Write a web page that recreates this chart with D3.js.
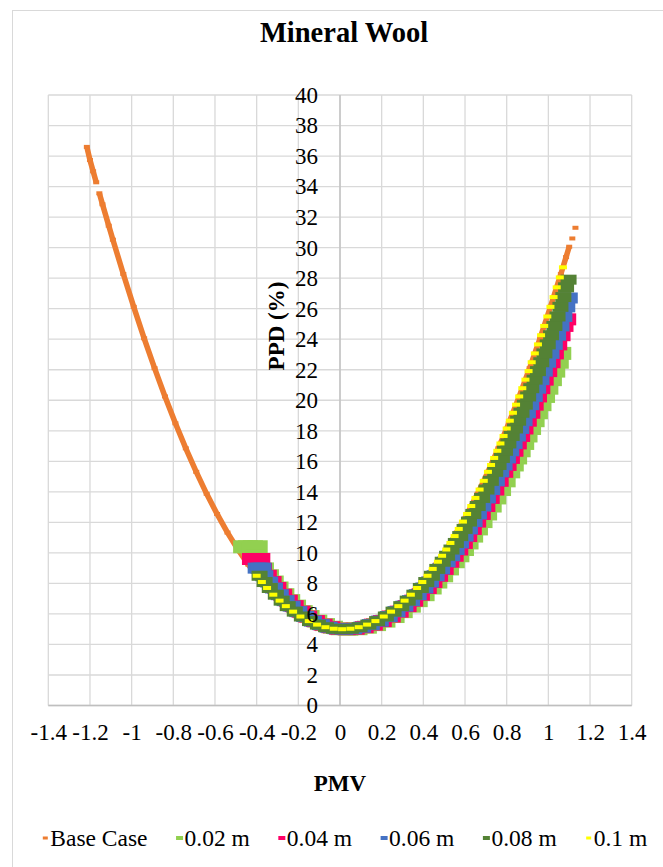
<!DOCTYPE html>
<html>
<head>
<meta charset="utf-8">
<script src="https://cdn.jsdelivr.net/npm/d3@7"></script>
<style>
  body { margin: 0; background: #fff; }
  svg { font-family: "Liberation Serif", "Times New Roman", serif; }
  text { font-family: "Liberation Serif", "Times New Roman", serif; fill: #000; }
</style>
</head>
<body>
<svg id="chart" width="663" height="867"></svg>
<script>
// ---- data: [PMV, PPD] pairs ----
const xTicks = [-1.4, -1.2, -1, -0.8, -0.6, -0.4, -0.2, 0, 0.2, 0.4, 0.6, 0.8, 1, 1.2, 1.4];
const yTicks = [0, 2, 4, 6, 8, 10, 12, 14, 16, 18, 20, 22, 24, 26, 28, 30, 32, 34, 36, 38, 40];

const seriesNames = ["Base Case", "0.02 m", "0.04 m", "0.06 m", "0.08 m", "0.1 m"];

// null = gap in the base case trace
const baseCase = [
  [-1.215, 36.6], [-1.2, 35.74], [-1.185, 35.0], [-1.17, 34.28], null,
  [-1.155, 33.56], [-1.14, 32.84], [-1.11, 31.44], [-1.09, 30.52], [-1.04, 28.27], [-0.99, 26.12],
  [-0.94, 24.06], [-0.89, 22.1], [-0.84, 20.25], [-0.79, 18.49], [-0.74, 16.85], [-0.69, 15.31],
  [-0.64, 13.87], [-0.59, 12.55], [-0.54, 11.33], [-0.49, 10.22], [-0.44, 9.23], [-0.39, 8.33],
  [-0.34, 7.55], [-0.29, 6.87], [-0.24, 6.3], [-0.19, 5.83], [-0.14, 5.47], [-0.09, 5.21],
  [-0.04, 5.05], [0.01, 5.0], [0.06, 5.05], [0.11, 5.21], [0.16, 5.47], [0.21, 5.83], [0.26, 6.3],
  [0.31, 6.87], [0.36, 7.55], [0.41, 8.33], [0.46, 9.23], [0.51, 10.22], [0.56, 11.33], [0.61, 12.55],
  [0.66, 13.87], [0.71, 15.31], [0.76, 16.85], [0.81, 18.49], [0.86, 20.25], [0.91, 22.1], [0.96, 24.06],
  [1.01, 26.12], [1.06, 28.27], [1.085, 29.38], [1.1, 30.06], null,
  [1.115, 30.6], null,
  [1.13, 31.3]
];

const ins002 = [
  [-0.465, 10.4], [-0.442, 10.4], [-0.418, 10.4], [-0.395, 10.4],
  [-0.425, 10.22], [-0.406, 9.81], [-0.388, 9.42], [-0.365, 8.95], [-0.341, 8.5], [-0.318, 8.09],
  [-0.295, 7.7], [-0.267, 7.26], [-0.239, 6.87], [-0.211, 6.51], [-0.179, 6.15], [-0.146, 5.83],
  [-0.109, 5.53], [-0.072, 5.3], [-0.034, 5.13], [0.003, 5.03],
  [0.04, 5.0], [0.084, 5.03], [0.129, 5.13], [0.173, 5.3], [0.218, 5.53], [0.262, 5.83], [0.301, 6.15],
  [0.34, 6.51], [0.373, 6.87], [0.406, 7.26], [0.44, 7.7], [0.467, 8.09], [0.495, 8.5], [0.523, 8.95],
  [0.551, 9.42], [0.573, 9.81], [0.595, 10.22], [0.617, 10.65], [0.639, 11.1], [0.662, 11.57],
  [0.684, 12.05], [0.706, 12.55], [0.728, 13.07], [0.75, 13.6], [0.773, 14.15], [0.795, 14.72],
  [0.817, 15.31], [0.834, 15.76], [0.85, 16.22], [0.867, 16.69], [0.884, 17.17], [0.9, 17.66],
  [0.917, 18.15], [0.934, 18.66], [0.95, 19.18], [0.967, 19.71], [0.984, 20.25], [1.0, 20.79],
  [1.017, 21.35], [1.033, 21.91], [1.05, 22.49], [1.062, 23.07]
];

const ins004 = [
  [-0.425, 9.6], [-0.403, 9.6], [-0.38, 9.6],
  [-0.396, 9.42], [-0.372, 8.95], [-0.349, 8.5], [-0.326, 8.09], [-0.303, 7.7], [-0.275, 7.26],
  [-0.248, 6.87], [-0.22, 6.51], [-0.187, 6.15], [-0.155, 5.83], [-0.118, 5.53], [-0.081, 5.3],
  [-0.044, 5.13], [-0.007, 5.03],
  [0.03, 5.0], [0.073, 5.03], [0.116, 5.13], [0.16, 5.3], [0.203, 5.53], [0.246, 5.83], [0.284, 6.15],
  [0.322, 6.51], [0.354, 6.87], [0.386, 7.26], [0.419, 7.7], [0.446, 8.09], [0.473, 8.5], [0.5, 8.95],
  [0.527, 9.42], [0.548, 9.81], [0.57, 10.22], [0.592, 10.65], [0.613, 11.1], [0.635, 11.57],
  [0.656, 12.05], [0.678, 12.55], [0.7, 13.07], [0.721, 13.6], [0.743, 14.15], [0.764, 14.72],
  [0.786, 15.31], [0.802, 15.76], [0.818, 16.22], [0.835, 16.69], [0.851, 17.17], [0.867, 17.66],
  [0.883, 18.15], [0.899, 18.66], [0.916, 19.18], [0.932, 19.71], [0.948, 20.25], [0.964, 20.79],
  [0.98, 21.35], [0.997, 21.91], [1.013, 22.49], [1.029, 23.07], [1.045, 23.66], [1.061, 24.26],
  [1.075, 24.87], [1.088, 25.3]
];

const ins006 = [
  [-0.4, 9.0], [-0.386, 9.0], [-0.372, 9.0],
  [-0.363, 8.5], [-0.34, 8.09], [-0.317, 7.7], [-0.289, 7.26], [-0.261, 6.87], [-0.232, 6.51],
  [-0.2, 6.15], [-0.167, 5.83], [-0.13, 5.53], [-0.092, 5.3], [-0.055, 5.13], [-0.017, 5.03],
  [0.02, 5.0], [0.063, 5.03], [0.106, 5.13], [0.148, 5.3], [0.191, 5.53], [0.234, 5.83], [0.271, 6.15],
  [0.309, 6.51], [0.341, 6.87], [0.373, 7.26], [0.405, 7.7], [0.432, 8.09], [0.459, 8.5], [0.485, 8.95],
  [0.512, 9.42], [0.534, 9.81], [0.555, 10.22], [0.576, 10.65], [0.598, 11.1], [0.619, 11.57],
  [0.641, 12.05], [0.662, 12.55], [0.683, 13.07], [0.705, 13.6], [0.726, 14.15], [0.748, 14.72],
  [0.769, 15.31], [0.785, 15.76], [0.801, 16.22], [0.817, 16.69], [0.833, 17.17], [0.849, 17.66],
  [0.865, 18.15], [0.881, 18.66], [0.897, 19.18], [0.913, 19.71], [0.93, 20.25], [0.946, 20.79],
  [0.962, 21.35], [0.978, 21.91], [0.994, 22.49], [1.01, 23.07], [1.026, 23.66], [1.042, 24.26],
  [1.058, 24.87], [1.072, 25.49], [1.086, 26.12], [1.098, 26.7]
];

const ins008 = [
  [-0.386, 8.5], [-0.362, 8.09], [-0.337, 7.7], [-0.308, 7.26], [-0.28, 6.87], [-0.251, 6.51],
  [-0.217, 6.15], [-0.183, 5.83], [-0.144, 5.53], [-0.106, 5.3], [-0.067, 5.13], [-0.029, 5.03],
  [0.01, 5.0], [0.052, 5.03], [0.094, 5.13], [0.136, 5.3], [0.178, 5.53], [0.22, 5.83], [0.257, 6.15],
  [0.294, 6.51], [0.325, 6.87], [0.357, 7.26], [0.388, 7.7], [0.414, 8.09], [0.441, 8.5], [0.467, 8.95],
  [0.493, 9.42], [0.514, 9.81], [0.535, 10.22], [0.556, 10.65], [0.577, 11.1], [0.598, 11.57],
  [0.619, 12.05], [0.64, 12.55], [0.661, 13.07], [0.682, 13.6], [0.703, 14.15], [0.724, 14.72],
  [0.745, 15.31], [0.761, 15.76], [0.777, 16.22], [0.792, 16.69], [0.808, 17.17], [0.824, 17.66],
  [0.84, 18.15], [0.855, 18.66], [0.871, 19.18], [0.887, 19.71], [0.903, 20.25], [0.918, 20.79],
  [0.934, 21.35], [0.95, 21.91], [0.966, 22.49], [0.981, 23.07], [0.997, 23.66], [1.013, 24.26],
  [1.029, 24.87], [1.044, 25.49], [1.058, 26.12], [1.072, 26.76], [1.085, 27.4], [1.097, 27.9]
];

const ins010 = [
  [-0.4, 8.5], [-0.375, 8.09], [-0.35, 7.7], [-0.32, 7.26], [-0.29, 6.87], [-0.26, 6.51],
  [-0.225, 6.15], [-0.19, 5.83], [-0.15, 5.53], [-0.11, 5.3], [-0.07, 5.13], [-0.03, 5.03],
  [0.01, 5.0], [0.05, 5.03], [0.09, 5.13], [0.13, 5.3], [0.17, 5.53], [0.21, 5.83], [0.245, 6.15],
  [0.28, 6.51], [0.31, 6.87], [0.34, 7.26], [0.37, 7.7], [0.395, 8.09], [0.42, 8.5], [0.445, 8.95],
  [0.47, 9.42], [0.49, 9.81], [0.51, 10.22], [0.53, 10.65], [0.55, 11.1], [0.57, 11.57], [0.59, 12.05],
  [0.61, 12.55], [0.63, 13.07], [0.65, 13.6], [0.67, 14.15], [0.69, 14.72], [0.71, 15.31], [0.725, 15.76],
  [0.74, 16.22], [0.755, 16.69], [0.77, 17.17], [0.785, 17.66], [0.8, 18.15], [0.815, 18.66],
  [0.83, 19.18], [0.845, 19.71], [0.86, 20.25], [0.875, 20.79], [0.89, 21.35], [0.905, 21.91],
  [0.92, 22.49], [0.935, 23.07], [0.95, 23.66], [0.965, 24.26], [0.98, 24.87], [0.995, 25.49],
  [1.01, 26.12], [1.025, 26.76], [1.04, 27.4], [1.055, 28.05], [1.07, 28.71]
];

// ---- styles ----
const colors = ["#ED7D31", "#92D050", "#FF0066", "#4472C4", "#548235", "#FFFF00"];
// dash marker size [w, h] on the plot and in the legend
const plotMarker = [[6, 4], [20, 13], [19, 12], [18, 11], [16, 10], [8, 4]];
const legendMarker = [[5, 3], [7, 4], [7, 4], [7, 4], [7, 4], [5, 3]];
const fontFamily = '"Liberation Serif", "Times New Roman", serif';

const svg = d3.select("#chart"),
      width = +svg.attr("width"),
      height = +svg.attr("height");

// chart area border
svg.append("rect")
  .attr("x", 12.5).attr("y", 10.5)
  .attr("width", width).attr("height", height)
  .attr("fill", "none").attr("stroke", "#d9d9d9");

const x = d3.scaleLinear().domain([-1.4, 1.4]).range([48.3, 631.7]);
const y = d3.scaleLinear().domain([0, 40]).range([705.5, 95]);

// gridlines
const grid = svg.append("g").attr("stroke", "#d9d9d9").attr("stroke-width", 1.3);
grid.selectAll(".vx").data(xTicks).join("line")
  .attr("x1", d => x(d)).attr("x2", d => x(d))
  .attr("y1", y(0)).attr("y2", y(40));
grid.selectAll(".hy").data(yTicks).join("line")
  .attr("x1", x(-1.4)).attr("x2", x(1.4))
  .attr("y1", d => y(d)).attr("y2", d => y(d));

// axis lines
svg.append("line").attr("x1", x(0)).attr("x2", x(0)).attr("y1", y(0)).attr("y2", y(40))
  .attr("stroke", "#bfbfbf").attr("stroke-width", 1.3);
svg.append("line").attr("x1", x(-1.4)).attr("x2", x(1.4)).attr("y1", y(0)).attr("y2", y(0))
  .attr("stroke", "#bfbfbf").attr("stroke-width", 1.3);

// series
const plot = svg.append("g");

plot.append("path")
  .datum(baseCase)
  .attr("fill", "none")
  .attr("stroke", colors[0])
  .attr("stroke-width", 5.5)
  .attr("d", d3.line().defined(d => d).x(d => x(d[0])).y(d => y(d[1])));

const allSeries = [baseCase.filter(d => d), ins002, ins004, ins006, ins008, ins010];

allSeries.forEach((pts, i) => {
  const [w, h] = plotMarker[i];
  plot.append("g")
    .selectAll("rect")
    .data(pts)
    .join("rect")
    .attr("x", d => x(d[0]) - w / 2)
    .attr("y", d => y(d[1]) - h / 2)
    .attr("width", w)
    .attr("height", h)
    .attr("fill", colors[i]);
});

// tick labels (drawn over the series, like the original)
svg.append("g")
  .attr("transform", `translate(0,${y(0)})`)
  .call(d3.axisBottom(x).tickValues(xTicks).tickSize(0).tickPadding(18.5).tickFormat(d => String(d)))
  .call(g => g.select(".domain").remove())
  .attr("font-family", fontFamily)
  .attr("font-size", "23px");

svg.append("g")
  .attr("transform", `translate(${x(0)},0)`)
  .call(d3.axisLeft(y).tickValues(yTicks).tickSize(0).tickPadding(22).tickFormat(d => String(d)))
  .call(g => g.select(".domain").remove())
  .attr("font-family", fontFamily)
  .attr("font-size", "23px");

// titles
svg.append("text")
  .attr("x", 344).attr("y", 41.5)
  .attr("text-anchor", "middle")
  .attr("font-family", fontFamily)
  .attr("font-size", "28.5px").attr("font-weight", "bold")
  .text("Mineral Wool");

svg.append("text")
  .attr("x", 340).attr("y", 791)
  .attr("text-anchor", "middle")
  .attr("font-family", fontFamily)
  .attr("font-size", "23px").attr("font-weight", "bold")
  .text("PMV");

svg.append("text")
  .attr("transform", "translate(284,326) rotate(-90)")
  .attr("text-anchor", "middle")
  .attr("font-family", fontFamily)
  .attr("font-size", "23px").attr("font-weight", "bold")
  .text("PPD (%)");

// legend
const legend = svg.append("g").attr("font-family", fontFamily);
let lx = 0;
seriesNames.forEach((name, i) => {
  const [w, h] = legendMarker[i];
  legend.append("rect")
    .attr("x", lx + 4 - w / 2).attr("y", 838 - h / 2)
    .attr("width", w).attr("height", h)
    .attr("fill", colors[i]);
  const t = legend.append("text")
    .attr("x", lx + 9).attr("y", 846)
    .attr("font-size", "23.5px")
    .text(name);
  lx += 9 + t.node().getComputedTextLength() + 28;
});
const lb = legend.node().getBBox();
legend.attr("transform", `translate(${345 - (lb.x + lb.width / 2)},0)`);
</script>
</body>
</html>
